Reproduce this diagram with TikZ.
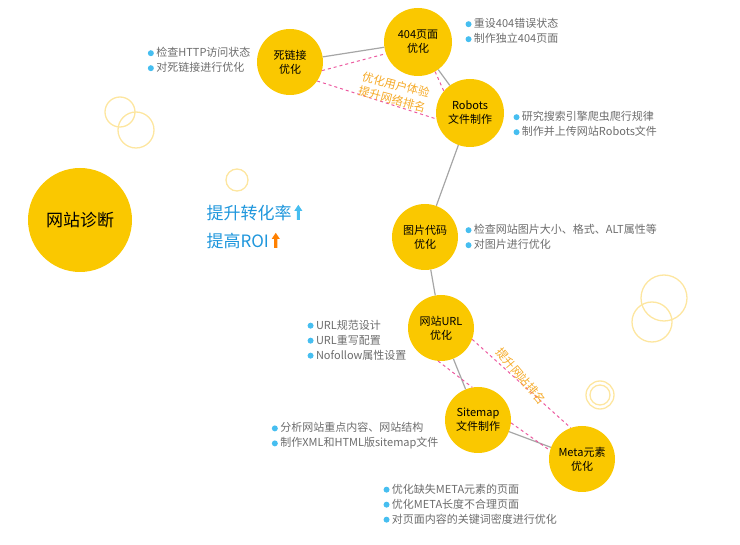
\documentclass[tikz,border=0pt]{standalone}
\usepackage{fontspec}
\setmainfont{Noto Sans CJK SC}
\usetikzlibrary{positioning}
\definecolor{gold}{RGB}{250,200,0}
\definecolor{ring}{RGB}{253,230,160}
\definecolor{pinkd}{RGB}{236,90,160}
\definecolor{orangetxt}{RGB}{245,170,40}
\definecolor{bluetxt}{RGB}{30,150,220}
\definecolor{dotblue}{RGB}{70,190,240}
\tikzset{
  topic/.style={circle, fill=gold, minimum size=66pt, inner sep=0pt, align=center, font=\fontsize{11}{14}\selectfont},
  link/.style={draw=gray!70, line width=1.2pt},
  hint/.style={draw=pinkd, dashed, line width=1pt},
  note/.style={anchor=west, align=left, text=gray!85!black, font=\fontsize{11}{15}\selectfont},
  decor/.style={draw=ring, line width=1.3pt}
}
\newcommand{\dotitem}{\textcolor{dotblue}{\raisebox{0.5pt}{\tikz\fill (0,0) circle (3pt);}}\ }
\newcommand{\uparr}[1]{\tikz[baseline=0pt]\fill[#1] (-1.6pt,0) -- (-1.6pt,9pt) -- (-4pt,9pt) -- (0,15pt) -- (4pt,9pt) -- (1.6pt,9pt) -- (1.6pt,0) -- cycle;}
\begin{document}
\begin{tikzpicture}[x=1pt,y=-1pt]
  \useasboundingbox (0,0) rectangle (740,545);
  % decorative rings
  \draw [decor] (120,112) circle (15);
  \draw [decor] (136,130) circle (18);
  \draw [decor] (237,180) circle (11);
  \draw [decor] (664,298) circle (23);
  \draw [decor] (652,322) circle (20);
  \draw [decor] (600,395) circle (14);
  \draw [decor] (600,395) circle (10);
  % topics
  \node [topic, minimum size=104pt, font=\fontsize{17}{20}\selectfont] (diag) at (80,220) {网站诊断};
  \node [topic] (dead) at (290,62) {死链接\\优化};
  \node [topic, minimum size=68pt] (p404) at (418,42) {404页面\\优化};
  \node [topic, minimum size=68pt] (robots) at (470,113) {Robots\\文件制作};
  \node [topic] (img) at (425,237) {图片代码\\优化};
  \node [topic] (url) at (441,328) {网站URL\\优化};
  \node [topic] (site) at (478,420) {Sitemap\\文件制作};
  \node [topic] (meta) at (582,459) {Meta元素\\优化};
  % connectors
  \draw [link] (dead) -- (p404);
  \draw [link] (p404) -- (robots);
  \draw [link] (robots) -- (img);
  \draw [link] (img) -- (url);
  \draw [link] (url) -- (site);
  \draw [link] (site) -- (meta);
  % dashed hints
  \draw [hint] (dead.-15) -- (p404.200);
  \draw [hint] (dead.-35) -- (robots.190);
  \draw [hint] (p404.-60) -- (robots.140);
  \draw [hint] (url.-20) -- (meta.110);
  \draw [hint] (url.-95) -- (site.100);
  \draw [hint] (site.-5) -- (meta.165);
  \node [rotate=-15, align=center, text=orangetxt, font=\fontsize{11.5}{15}\selectfont] (tri1) at (394,92) {优化用户体验\\提升网络排名};
  \node [rotate=-50, text=orangetxt, font=\fontsize{11.5}{14}\selectfont] (tri2) at (521,376) {提升网站排名};
  % slogans
  \node [anchor=west, text=bluetxt, font=\fontsize{17}{20}\selectfont] (conv) at (203,213) {提升转化率\,\uparr{dotblue}};
  \node [anchor=west, text=bluetxt, font=\fontsize{17}{20}\selectfont] (roi) at (203,241) {提高ROI\,\uparr{orange}};
  % notes
  \node [note, anchor=east] (n1) at (254,60) {\dotitem 检查HTTP访问状态\\\dotitem 对死链接进行优化};
  \node [note] (n2) at (462,31) {\dotitem 重设404错误状态\\\dotitem 制作独立404页面};
  \node [note] (n3) at (510,124) {\dotitem 研究搜索引擎爬虫爬行规律\\\dotitem 制作并上传网站Robots文件};
  \node [note] (n4) at (462,237) {\dotitem 检查网站图片大小、格式、ALT属性等\\\dotitem 对图片进行优化};
  \node [note, anchor=east] (n5) at (410,340) {\dotitem URL规范设计\\\dotitem URL重写配置\\\dotitem Nofollow属性设置};
  \node [note, anchor=east] (n6) at (442,436) {\dotitem 分析网站重点内容、网站结构\\\dotitem 制作XML和HTML版sitemap文件};
  \node [note] (n7) at (380,504) {\dotitem 优化缺失META元素的页面\\\dotitem 优化META长度不合理页面\\\dotitem 对页面内容的关键词密度进行优化};
\end{tikzpicture}
\end{document}
